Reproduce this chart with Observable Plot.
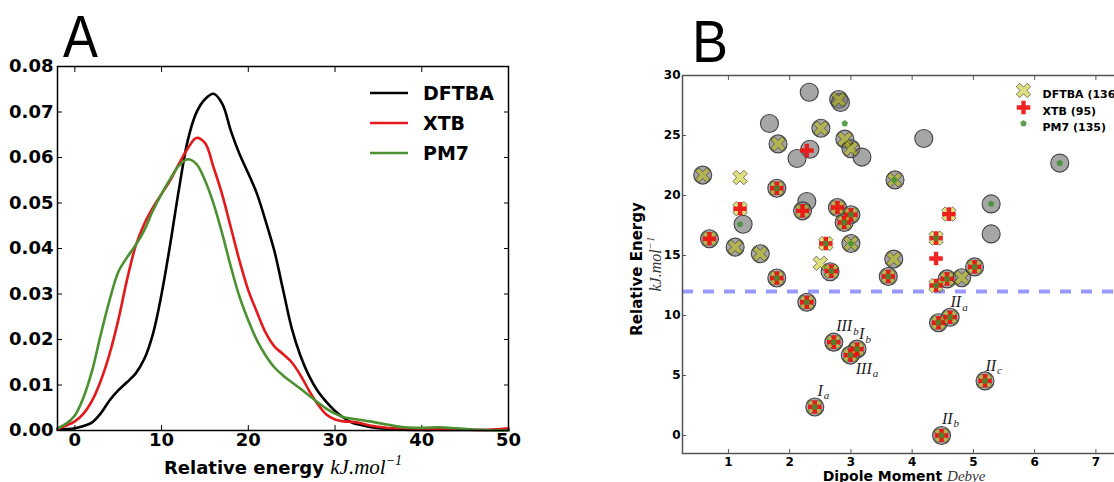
<!DOCTYPE html>
<html><head><meta charset="utf-8">
<script src="https://cdn.jsdelivr.net/npm/d3@7"></script>
<script src="https://cdn.jsdelivr.net/npm/@observablehq/plot@0.6"></script>
<style>
body{margin:0;background:#fff;}
#root{position:relative;width:1114px;height:482px;overflow:hidden;background:#fff;}
#root svg{position:absolute;}
</style></head><body><div id="root"></div>
<script>
// ---------- Panel A data (kernel density curves) ----------
const methods = ["DFTBA", "XTB", "PM7"];
const methodColors = ["#000000", "#e3191c", "#4b9131"];
const energyGrid = [-2,-1,0,1,2,3,4,5,6,7,8,9,10,11,12,13,14,15,16,17,18,19,20,21,22,23,24,25,26,27,28,29,30,31,32,33,34,36,38,40,42,44,47,50];
const dftbaDensity = [0.0002,0.0003,0.0005,0.001,0.0018,0.0038,0.0066,0.0088,0.0106,0.0125,0.0157,0.0212,0.030,0.041,0.053,0.0636,0.0698,0.0728,0.074,0.0718,0.0658,0.0607,0.0565,0.052,0.046,0.0395,0.031,0.0225,0.0165,0.012,0.0087,0.0063,0.0043,0.0028,0.0017,0.0012,0.0008,0.0004,0.0002,0.0001,0.0001,0.0001,0.0001,0.0001];
const xtbDensity = [0.0004,0.0011,0.002,0.0037,0.0066,0.011,0.0168,0.0242,0.033,0.0405,0.0454,0.049,0.052,0.055,0.0586,0.0619,0.0643,0.0632,0.0578,0.0518,0.0445,0.0372,0.0308,0.026,0.0215,0.0185,0.0168,0.015,0.0122,0.0088,0.0058,0.0035,0.0024,0.002,0.0019,0.0016,0.0011,0.0006,0.0005,0.0004,0.0004,0.0003,0.0001,0.0005];
const pm7Density = [0.0005,0.0015,0.0033,0.0073,0.0132,0.0212,0.0286,0.0348,0.038,0.0407,0.044,0.0483,0.052,0.0553,0.0582,0.0596,0.0586,0.055,0.0498,0.0432,0.0359,0.0293,0.0242,0.0198,0.0165,0.0139,0.0121,0.0106,0.0092,0.0077,0.0062,0.0048,0.0037,0.0029,0.0026,0.0023,0.002,0.0013,0.0007,0.0006,0.0007,0.0005,0.0001,0];
const xTicksA = [0,10,20,30,40,50];
const yTicksA = [0,0.01,0.02,0.03,0.04,0.05,0.06,0.07,0.08];

// ---------- Panel B data (dipole vs relative energy) ----------
const refDipole = [2.32,2.80,2.83,1.67,2.51,1.81,2.33,2.12,2.90,3.0,3.18,4.19,6.41,0.58,3.72,1.79,2.28,2.21,2.78,3.0,2.89,5.29,5.29,1.24,0.69,1.11,1.52,3.0,3.70,2.66,1.79,3.61,4.57,4.81,5.02,2.28,4.43,4.62,2.72,3.10,2.99,2.41,5.19,4.48];
const refEnergy = [28.6,28.0,27.75,26.0,25.6,24.3,23.85,23.08,24.7,23.9,23.2,24.75,22.7,21.7,21.3,20.6,19.5,18.72,19.0,18.4,17.75,19.3,16.8,17.6,16.4,15.7,15.15,16.0,14.7,13.65,13.12,13.25,13.05,13.15,14.05,11.1,9.4,9.86,7.78,7.2,6.7,2.38,4.55,0.0];
const dftbaDipole = [2.80,2.51,1.81,2.90,3.0,0.58,1.19,3.71,1.79,1.19,2.21,2.78,3.0,2.89,0.69,1.11,1.52,3.0,2.59,2.50,3.70,4.60,4.39,2.68,1.79,3.61,4.57,4.81,5.02,4.39,2.28,4.43,4.62,2.72,3.10,2.99,2.41,5.19,4.48];
const dftbaEnergy = [28.0,25.6,24.3,24.7,23.9,21.7,21.5,21.3,20.6,18.9,18.72,19.0,18.4,17.75,16.4,15.7,15.15,16.0,16.0,14.35,14.7,18.45,16.45,13.7,13.12,13.25,13.05,13.15,14.05,12.5,11.1,9.4,9.86,7.78,7.2,6.7,2.38,4.55,0.0];
const xtbDipole = [2.28,1.79,1.19,2.21,2.78,3.0,2.89,0.69,2.59,4.60,4.39,4.39,2.68,1.79,3.61,4.57,5.02,4.39,2.28,4.43,4.62,2.72,3.10,2.99,2.41,5.19,4.48];
const xtbEnergy = [23.75,20.6,18.9,18.72,19.0,18.4,17.75,16.4,16.0,18.45,16.45,14.75,13.7,13.12,13.25,13.05,14.05,12.5,11.1,9.4,9.86,7.78,7.2,6.7,2.38,4.55,0.0];
const pm7Dipole = [2.90,6.41,3.71,1.79,3.0,2.89,5.29,1.19,3.0,2.59,4.39,2.68,1.79,3.61,4.57,5.02,4.39,2.28,4.43,4.62,2.72,3.10,2.99,2.41,5.19,4.48];
const pm7Energy = [26.0,22.7,21.3,20.6,18.4,17.75,19.3,17.6,16.0,16.0,16.45,13.7,13.12,13.25,13.05,14.05,12.5,11.1,9.4,9.86,7.78,7.2,6.7,2.38,4.55,0.0];
const legendLabelsB = ["DFTBA (136)", "XTB (95)", "PM7 (135)"];
const threshold = [12];
const conformerMain = ["II","III","I","III","II","I","II"];
const conformerSub = ["a","b","b","a","c","a","b"];
const conformerDipole = [4.80,3.02,3.22,3.34,5.37,2.54,4.66];
const conformerEnergy = [11.1,9.1,8.45,5.56,5.83,3.75,1.39];
const xTicksB = [1,2,3,4,5,6,7];
const yTicksB = [0,5,10,15,20,25,30];

// ---------- custom symbols ----------
function crossPoly(r, w, rot) {
  const pts = [[-w,-r],[w,-r],[w,-w],[r,-w],[r,w],[w,w],[w,r],[-w,r],[-w,w],[-r,w],[-r,-w],[-w,-w]];
  const c = Math.cos(rot), s = Math.sin(rot);
  return pts.map(([x,y]) => [x*c - y*s, x*s + y*c]);
}
function polySymbol(fn) {
  return {draw(ctx, size) {
    const r = Math.sqrt(size / Math.PI);
    const pts = fn(r);
    ctx.moveTo(pts[0][0], pts[0][1]);
    for (let i = 1; i < pts.length; i++) ctx.lineTo(pts[i][0], pts[i][1]);
    ctx.closePath();
  }};
}
const timesSym = polySymbol(r => crossPoly(r, r*0.31, Math.PI/4));
const plusSym = polySymbol(r => crossPoly(r, r*0.32, 0));
const pentSym = polySymbol(r => d3.range(5).map(k => {
  const a = -Math.PI/2 + k*2*Math.PI/5; return [r*Math.cos(a), r*Math.sin(a)];
}));

// ---------- Panel A ----------
const densities = [dftbaDensity, xtbDensity, pm7Density];
const curveRows = methods.flatMap((m, j) => energyGrid.map((x, i) => ({method: m, x, y: densities[j][i]})));
const fontA = {fontFamily: "DejaVu Sans", fontWeight: "bold", fontSize: 18};
const plotA = Plot.plot({
  width: 560, height: 482,
  marginLeft: 57, marginRight: 52, marginTop: 66, marginBottom: 52,
  style: {fontFamily: "DejaVu Sans", fontSize: "18px", fontWeight: "bold", color: "#000", background: "transparent", overflow: "visible"},
  x: {domain: [-2, 50]},
  y: {domain: [0, 0.08]},
  color: {domain: methods, range: methodColors},
  marks: [
    Plot.axisY({ticks: yTicksA, tickSize: 0, tickPadding: 4, tickFormat: d3.format(".2f"), label: null, ...fontA}),
    Plot.axisX({ticks: xTicksA, tickSize: 0, tickPadding: 3, label: null, ...fontA}),
    Plot.axisY({ticks: yTicksA, anchor: "left", tickSize: -5, fill: "none", label: null}),
    Plot.axisY({ticks: yTicksA, anchor: "right", tickSize: -5, fill: "none", label: null}),
    Plot.axisX({ticks: xTicksA, anchor: "bottom", tickSize: -5, fill: "none", label: null}),
    Plot.axisX({ticks: xTicksA, anchor: "top", tickSize: -5, fill: "none", label: null}),
    Plot.line(curveRows, {x: "x", y: "y", stroke: "method", strokeWidth: 2.6, curve: "catmull-rom"}),
    Plot.frame({stroke: "#000", strokeWidth: 1.5})
  ]
});

// ---------- Panel B ----------
const rows = (xs, ys) => xs.map((x, i) => ({x, y: ys[i]}));
const refRows = rows(refDipole, refEnergy);
const dftbaRows = rows(dftbaDipole, dftbaEnergy);
const xtbRows = rows(xtbDipole, xtbEnergy);
const pm7Rows = rows(pm7Dipole, pm7Energy);
const conformers = conformerMain.map((m, i) => ({main: m, sub: conformerSub[i], x: conformerDipole[i], y: conformerEnergy[i]}));
const fontB = {fontFamily: "DejaVu Sans", fontWeight: "bold", fontSize: 12};
const xStyle = {symbol: timesSym, r: 7.8, fill: "#bfbf00", fillOpacity: 0.5, stroke: "#222", strokeWidth: 0.7, strokeOpacity: 0.8};
const pStyle = {symbol: plusSym, r: 6.8, fill: "#ee1111", fillOpacity: 0.92, stroke: "none"};
const gStyle = {symbol: pentSym, r: 3.4, fill: "#3d8f2f", fillOpacity: 0.85, stroke: "none"};
const legendDx = 341, legendDy = [15, 32, 48], legendTextDx = 360;
const legendTextStyle = {frameAnchor: "top-left", dx: legendTextDx, textAnchor: "start", text: d => d, fill: "#000", fontFamily: "DejaVu Sans", fontWeight: "bold", fontSize: 11};
const plotB = Plot.plot({
  width: 540, height: 482,
  marginLeft: 82, marginRight: 14, marginTop: 75, marginBottom: 29,
  style: {fontFamily: "DejaVu Sans", fontSize: "12px", fontWeight: "bold", color: "#000", background: "transparent", overflow: "visible"},
  x: {domain: [0.25, 7.5]},
  y: {domain: [-1.5, 30]},
  marks: [
    Plot.axisY({ticks: yTicksB, tickSize: 0, tickPadding: 2, label: null, ...fontB}),
    Plot.axisX({ticks: xTicksB, tickSize: 0, tickPadding: 4, label: null, ...fontB}),
    Plot.axisY({ticks: yTicksB, anchor: "left", tickSize: -4, fill: "none", stroke: "#555", label: null}),
    Plot.axisY({ticks: yTicksB, anchor: "right", tickSize: -4, fill: "none", stroke: "#555", label: null}),
    Plot.axisX({ticks: xTicksB, anchor: "bottom", tickSize: -4, fill: "none", stroke: "#555", label: null}),
    Plot.axisX({ticks: xTicksB, anchor: "top", tickSize: -4, fill: "none", stroke: "#555", label: null}),
    Plot.ruleY(threshold, {stroke: "#9999ff", strokeWidth: 4, strokeDasharray: "11,10"}),
    Plot.dot(refRows, {x: "x", y: "y", r: 9, fill: "#777", fillOpacity: 0.65, stroke: "#444", strokeWidth: 1.1}),
    Plot.dot(dftbaRows, {x: "x", y: "y", ...xStyle}),
    Plot.dot(xtbRows, {x: "x", y: "y", ...pStyle}),
    Plot.dot(pm7Rows, {x: "x", y: "y", ...gStyle}),
    Plot.text(conformers, {x: "x", y: "y", text: "main", textAnchor: "end", fontFamily: "Liberation Serif", fontStyle: "italic", fontWeight: "normal", fontSize: 16, fill: "#222"}),
    Plot.text(conformers, {x: "x", y: "y", text: "sub", textAnchor: "start", dx: 1, dy: 5, fontFamily: "Liberation Serif", fontStyle: "italic", fontWeight: "normal", fontSize: 11, fill: "#222"}),
    Plot.dot([legendLabelsB[0]], {frameAnchor: "top-left", dx: legendDx, dy: legendDy[0], ...xStyle}),
    Plot.dot([legendLabelsB[1]], {frameAnchor: "top-left", dx: legendDx, dy: legendDy[1], ...pStyle}),
    Plot.dot([legendLabelsB[2]], {frameAnchor: "top-left", dx: legendDx, dy: legendDy[2], ...gStyle}),
    Plot.text([legendLabelsB[0]], {...legendTextStyle, dy: legendDy[0]}),
    Plot.text([legendLabelsB[1]], {...legendTextStyle, dy: legendDy[1]}),
    Plot.text([legendLabelsB[2]], {...legendTextStyle, dy: legendDy[2]}),
    Plot.frame({stroke: "#555", strokeWidth: 1.5})
  ]
});

const root = document.getElementById("root");
plotA.style.left = "0px"; plotA.style.top = "0px";
plotB.style.left = "600px"; plotB.style.top = "0px";
plotB.style.maxWidth = "none";
root.appendChild(plotA);
root.appendChild(plotB);

// ---------- overlay: panel letters, axis titles, legend A ----------
const ov = d3.create("svg").attr("width", 1114).attr("height", 482)
  .style("left", "0px").style("top", "0px").style("pointer-events", "none");
ov.append("text").attr("x", 63).attr("y", 57).attr("font-family", "Liberation Sans").attr("font-size", 60)
  .attr("textLength", 35).attr("lengthAdjust", "spacingAndGlyphs").text("A");
ov.append("text").attr("x", 692).attr("y", 62).attr("font-family", "Liberation Sans").attr("font-size", 60)
  .attr("textLength", 36).attr("lengthAdjust", "spacingAndGlyphs").text("B");

const tA = ov.append("text").attr("x", 283).attr("y", 474).attr("text-anchor", "middle");
tA.append("tspan").attr("font-family", "DejaVu Sans").attr("font-weight", "bold").attr("font-size", 18).text("Relative energy ");
tA.append("tspan").attr("font-family", "Liberation Serif").attr("font-style", "italic").attr("font-size", 21).text("kJ.mol");
tA.append("tspan").attr("font-family", "Liberation Serif").attr("font-style", "italic").attr("font-size", 14).attr("dy", -9).text("\u22121");

ov.append("text").attr("transform", "translate(642,269) rotate(-90)").attr("text-anchor", "middle")
  .attr("font-family", "DejaVu Sans").attr("font-weight", "bold").attr("font-size", 15).text("Relative Energy");
const yB2 = ov.append("text").attr("transform", "translate(661,264) rotate(-90)").attr("text-anchor", "middle");
yB2.append("tspan").attr("font-family", "Liberation Serif").attr("font-style", "italic").attr("font-size", 16).attr("fill", "#333").text("kJ.mol");
yB2.append("tspan").attr("font-family", "Liberation Serif").attr("font-style", "italic").attr("font-size", 11).attr("fill", "#333").attr("dy", -7).text("\u22121");

const xB = ov.append("text").attr("x", 904).attr("y", 481).attr("text-anchor", "middle");
xB.append("tspan").attr("font-family", "DejaVu Sans").attr("font-weight", "bold").attr("font-size", 14).text("Dipole Moment ");
xB.append("tspan").attr("font-family", "Liberation Serif").attr("font-style", "italic").attr("font-size", 15).attr("fill", "#333").text("Debye");

methods.forEach((m, i) => {
  const y = 93 + i * 30;
  ov.append("line").attr("x1", 370).attr("x2", 408).attr("y1", y).attr("y2", y)
    .attr("stroke", methodColors[i]).attr("stroke-width", 2.6);
  ov.append("text").attr("x", 423).attr("y", y + 7).attr("font-family", "DejaVu Sans").attr("font-weight", "bold")
    .attr("font-size", 19).text(m);
});
root.appendChild(ov.node());
</script>
</body></html>
